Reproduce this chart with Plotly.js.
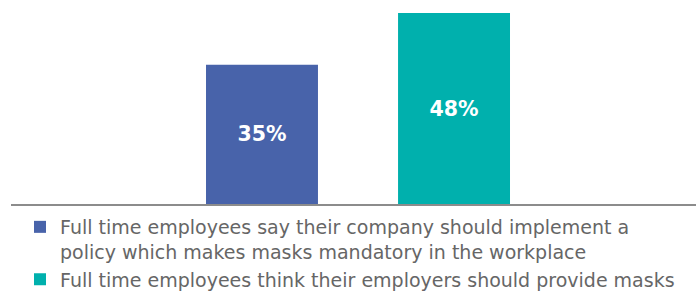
<!DOCTYPE html>
<html>
<head>
<meta charset="utf-8">
<script src="https://cdn.plot.ly/plotly-3.0.1.min.js"></script>
<style>html,body{margin:0;padding:0;background:#fff;}#chart{width:696px;height:292px;}</style>
</head>
<body>
<div id="chart"></div>
<script>
var categories = ['Mask mandate policy', 'Employer-provided masks'];
var values = [35, 48];
var labels = ['35%', '48%'];
var seriesNames = [
  'Full time employees say their company should implement a<br>policy which makes masks mandatory in the workplace',
  'Full time employees think their employers should provide masks'
];
var colors = ['#4863aa', '#00b0ad'];

var traces = categories.map(function (c, i) {
  return {
    type: 'bar',
    x: [i],
    y: [values[i]],
    text: [labels[i]],
    name: seriesNames[i],
    width: 0.583,
    marker: {color: colors[i]},
    textposition: 'inside',
    insidetextanchor: 'middle',
    textangle: 0,
    textfont: {family: 'DejaVu Sans, sans-serif', size: 20.5, color: '#ffffff', weight: 'bold'},
    hoverinfo: 'skip'
  };
});

var layout = {
  width: 696,
  height: 292,
  margin: {l: 11, r: 0, t: 13, b: 88, autoexpand: false},
  paper_bgcolor: '#ffffff',
  plot_bgcolor: '#ffffff',
  barmode: 'overlay',
  showlegend: true,
  xaxis: {
    range: [-1.307, 2.26],
    showticklabels: false,
    ticks: '',
    showgrid: false,
    zeroline: false,
    showline: true,
    linecolor: '#8c8c8c',
    linewidth: 1.5
  },
  yaxis: {
    range: [0, 48],
    visible: false,
    showgrid: false,
    zeroline: false
  },
  legend: {
    xref: 'container',
    yref: 'container',
    x: 20 / 696,
    y: 1 - 208 / 292,
    xanchor: 'left',
    yanchor: 'top',
    orientation: 'v',
    valign: 'top',
    font: {family: 'DejaVu Sans, sans-serif', size: 19, color: '#666666'},
    tracegroupgap: 0,
    bgcolor: 'rgba(0,0,0,0)'
  }
};

Plotly.newPlot('chart', traces, layout, {displayModeBar: false, staticPlot: true});
</script>
</body>
</html>
